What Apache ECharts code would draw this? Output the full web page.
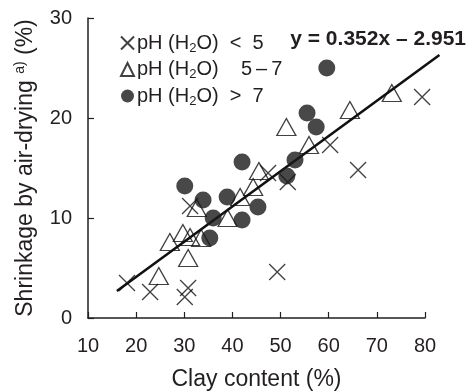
<!DOCTYPE html>
<html>
<head>
<meta charset="utf-8">
<script src="https://cdn.jsdelivr.net/npm/echarts@6/dist/echarts.min.js"></script>
<style>
  html, body { margin: 0; padding: 0; background: #fff; }
  #chart { width: 476px; height: 392px; }
</style>
</head>
<body>
<div id="chart"></div>
<script>
// pH (H2O) < 5
const clayLow = [18.1, 22.9, 30.8, 30.1, 31.2, 49.3, 47.4, 51.5, 60.3, 66.1, 79.4];
const shrinkLow = [3.5, 2.6, 3.0, 2.1, 11.2, 4.6, 14.5, 13.6, 17.3, 14.8, 22.1];
// pH (H2O) 5-7
const clayMid = [24.7, 27.0, 29.7, 31.2, 30.8, 32.6, 33.5, 39.0, 41.6, 44.3, 45.5, 51.2, 55.9, 64.4, 73.1];
const shrinkMid = [4.2, 7.6, 8.5, 8.1, 6.0, 11.0, 8.0, 10.0, 12.1, 13.1, 14.7, 19.1, 17.3, 20.8, 22.5];
// pH (H2O) > 7
const clayHigh = [30.1, 33.9, 36.0, 35.3, 38.9, 42.0, 42.0, 45.3, 51.3, 53.0, 55.5, 57.4, 59.6];
const shrinkHigh = [13.2, 11.8, 10.0, 8.0, 12.1, 15.6, 9.8, 11.1, 14.2, 15.8, 20.5, 19.1, 25.0];
// fitted line end points (it runs past the x axis end)
const fitX = [16, 83];
const fitY = [2.7, 26.3];

const xTicks = [10, 20, 30, 40, 50, 60, 70, 80];
const yTicks = [0, 10, 20, 30];

const pairs = (xs, ys) => xs.map((x, i) => [x, ys[i]]);
const FONT = '"Liberation Sans", Arial, sans-serif';
const INK = '#231f20';
const CROSS = 'path://M0,0L10,10M10,0L0,10';

const legendFmt = {
  low: 'pH (H{s|2}O)  <  5',
  mid: 'pH (H{s|2}O)    5\u2009\u2013\u20097',
  high: 'pH (H{s|2}O)  >  7',
};

// plot box in pixels, the fit line gets a wider twin box so it can pass x = 80
const plotLeft = 88, plotRight = 51, plotTop = 18, plotBottom = 74;
const pxPerX = (476 - plotLeft - plotRight) / (xTicks[xTicks.length - 1] - xTicks[0]);
const fitRight = 476 - plotLeft - (fitX[1] - xTicks[0]) * pxPerX;

const chart = echarts.init(document.getElementById('chart'), null, { renderer: 'canvas' });

chart.setOption({
  animation: false,
  textStyle: { fontFamily: FONT, color: INK },
  title: {
    text: 'y = 0.352x \u2013 2.951',
    right: 5,
    top: 24,
    textStyle: { fontFamily: FONT, fontSize: 21, fontWeight: 'bold', color: INK },
  },
  grid: [
    { left: plotLeft, right: plotRight, top: plotTop, bottom: plotBottom, outerBoundsMode: 'none' },
    { left: plotLeft, right: fitRight, top: plotTop, bottom: plotBottom, outerBoundsMode: 'none' },
  ],
  legend: {
    orient: 'vertical',
    left: 115,
    top: 28,
    itemGap: 5,
    itemWidth: 13,
    itemHeight: 13,
    data: ['low', 'mid', 'high'],
    formatter: name => legendFmt[name],
    textStyle: {
      fontFamily: FONT,
      fontSize: 20,
      color: INK,
      padding: [0, 0, 0, -2],
      rich: {
        s: { fontSize: 13, verticalAlign: 'bottom', padding: [10, 0, 0, 0], fontFamily: FONT, color: INK },
      },
    },
  },
  xAxis: [
    {
      type: 'value',
      gridIndex: 0,
      min: xTicks[0],
      max: xTicks[xTicks.length - 1],
      interval: 10,
      name: 'Clay content (%)',
      nameLocation: 'middle',
      nameGap: 50,
      nameTextStyle: { fontSize: 23, color: INK, fontFamily: FONT },
      axisLine: { lineStyle: { color: INK, width: 1.5 } },
      axisTick: { inside: true, length: 6, lineStyle: { color: INK, width: 1.2 } },
      axisLabel: { fontSize: 20, color: INK, margin: 18, fontFamily: FONT },
      splitLine: { show: false },
    },
    {
      type: 'value',
      gridIndex: 1,
      min: xTicks[0],
      max: fitX[1],
      show: false,
      splitLine: { show: false },
    },
  ],
  yAxis: [
    {
      type: 'value',
      gridIndex: 0,
      min: yTicks[0],
      max: yTicks[yTicks.length - 1],
      interval: 10,
      name: 'Shrinkage by air-drying {sup|a)} (%)',
      nameLocation: 'middle',
      nameGap: 41,
      nameTextStyle: {
        fontSize: 23, color: INK, fontFamily: FONT, lineHeight: 26,
        rich: { sup: { fontSize: 14, verticalAlign: 'top', lineHeight: 26, padding: [0, 0, 10, 0], color: INK, fontFamily: FONT } },
      },
      axisLine: { show: true, lineStyle: { color: INK, width: 1.5 } },
      axisTick: { show: true, inside: true, length: 6, lineStyle: { color: INK, width: 1.2 } },
      axisLabel: { fontSize: 20, color: INK, margin: 16, fontFamily: FONT },
      splitLine: { show: false },
    },
    {
      type: 'value',
      gridIndex: 1,
      min: yTicks[0],
      max: yTicks[yTicks.length - 1],
      show: false,
      splitLine: { show: false },
    },
  ],
  series: [
    {
      name: 'fit',
      type: 'line',
      xAxisIndex: 1,
      yAxisIndex: 1,
      data: pairs(fitX, fitY),
      clip: false,
      symbol: 'none',
      lineStyle: { color: '#111', width: 2.6 },
      z: 2,
    },
    {
      name: 'low',
      type: 'scatter',
      data: pairs(clayLow, shrinkLow),
      symbol: CROSS,
      symbolSize: 16,
      itemStyle: { color: 'transparent', borderColor: '#111', borderWidth: 1.3 },
      z: 3,
    },
    {
      name: 'mid',
      type: 'scatter',
      data: pairs(clayMid, shrinkMid),
      symbol: 'triangle',
      symbolSize: [19, 17],
      itemStyle: { color: 'transparent', borderColor: '#111', borderWidth: 1.3 },
      z: 4,
    },
    {
      name: 'high',
      type: 'scatter',
      data: pairs(clayHigh, shrinkHigh),
      symbol: 'circle',
      symbolSize: 17,
      itemStyle: { color: '#1a1a1a' },
      z: 5,
    },
  ],
});
</script>
</body>
</html>
